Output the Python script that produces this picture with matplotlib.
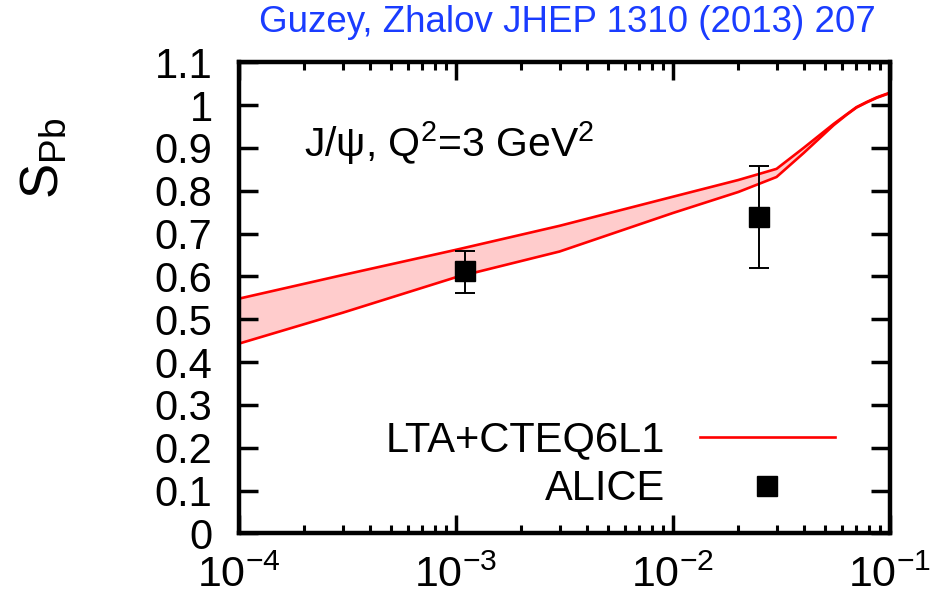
import numpy as np
import matplotlib
matplotlib.use("Agg")
import matplotlib.pyplot as plt
from matplotlib.lines import Line2D

plt.rcParams['font.family'] = ['Liberation Sans', 'DejaVu Sans']
plt.rcParams['mathtext.fontset'] = 'custom'
plt.rcParams['mathtext.rm'] = 'Liberation Sans'
plt.rcParams['mathtext.it'] = 'Liberation Sans:italic'
plt.rcParams['mathtext.bf'] = 'Liberation Sans:bold'

# LTA + CTEQ6L1 band (upper / lower edges)
x_band = [1e-4, 3e-4, 1e-3, 3e-3, 1e-2, 2e-2, 3e-2, 4e-2, 5.5e-2, 6.3e-2, 7e-2, 7.8e-2, 8.7e-2, 1e-1]
s_upper = [0.548, 0.603, 0.662, 0.718, 0.786, 0.825, 0.851, 0.900, 0.956, 0.978, 0.995, 1.007, 1.018, 1.029]
s_lower = [0.443, 0.515, 0.598, 0.658, 0.748, 0.797, 0.832, 0.888, 0.953, 0.977, 0.994, 1.006, 1.017, 1.028]

# ALICE points
x_alice = [1.1e-3, 2.5e-2]
s_alice = [0.612, 0.739]
err_lo = [0.050, 0.119]
err_hi = [0.048, 0.119]

fig = plt.figure(figsize=(9.3, 6.04), dpi=100)
ax = fig.add_axes([0.257, 0.117, 0.700, 0.780])

ax.fill_between(x_band, s_lower, s_upper, color='#ffcccc', lw=0)
ax.plot(x_band, s_upper, color='red', lw=1.9)
ax.plot(x_band, s_lower, color='red', lw=1.9)

ax.errorbar(x_alice, s_alice, yerr=[err_lo, err_hi], fmt='s', color='black',
            ms=15, elinewidth=1.4, capsize=7, capthick=1.4)

ax.set_xscale('log')
ax.set_xlim(1e-4, 1e-1)
ax.set_ylim(0, 1.1)
ax.set_yticks(np.arange(0, 1.11, 0.1))
ax.set_yticklabels(['0', '0.1', '0.2', '0.3', '0.4', '0.5', '0.6', '0.7', '0.8', '0.9', '1', '1.1'])
ax.set_xticks([1e-4, 1e-3, 1e-2, 1e-1])
ax.set_xticklabels(['$10^{-4}$', '$10^{-3}$', '$10^{-2}$', '$10^{-1}$'])

for s in ax.spines.values():
    s.set_linewidth(3.2)
ax.tick_params(which='both', direction='in', top=True, right=True, labelsize=30, width=2.5)
ax.tick_params(axis='y', which='major', length=14, pad=19)
ax.tick_params(axis='x', which='major', length=13, pad=16, labelsize=31)
ax.tick_params(axis='x', which='minor', length=6, width=2.2)
ax.tick_params(axis='y', which='minor', left=False, right=False)

ax.text(-0.3, 0.797, 'S$_{\\rm Pb}$', transform=ax.transAxes, fontsize=38,
        rotation=90, ha='center', va='center')

ax.text(0.1, 0.828, 'J/ψ, Q$^2$=3 GeV$^2$', transform=ax.transAxes, fontsize=29.5,
        va='center', ha='left')

handles = [Line2D([], [], color='red', lw=1.9),
           Line2D([], [], marker='s', color='black', ls='none', ms=15)]
ax.legend(handles, ['LTA+CTEQ6L1', 'ALICE'], loc='lower right', bbox_to_anchor=(0.915, 0.051),
          frameon=False, markerfirst=False, fontsize=30, handlelength=3.24,
          handletextpad=0.84, labelspacing=0.22, borderaxespad=0, borderpad=0)

fig.text(0.61, 0.962, 'Guzey, Zhalov JHEP 1310 (2013) 207', color='#1a3cff',
         fontsize=26.5, ha='center', va='center')

fig.savefig('out.png', dpi=100)
